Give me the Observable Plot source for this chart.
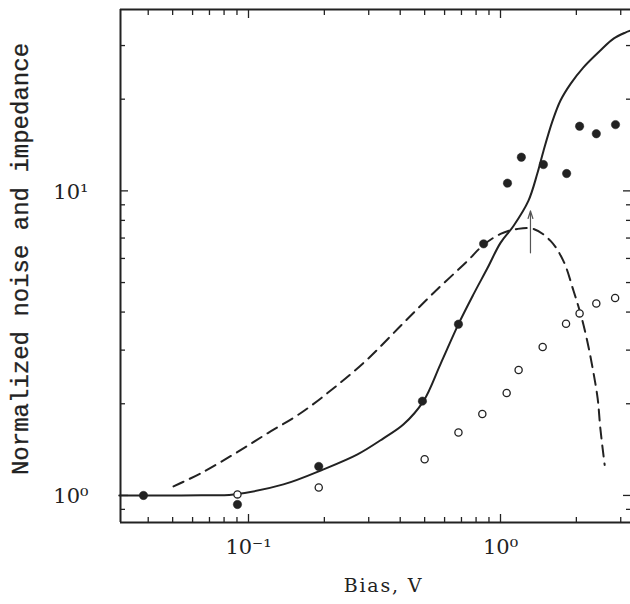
<!DOCTYPE html>
<html><head><meta charset="utf-8">
<script src="https://cdn.jsdelivr.net/npm/d3@7"></script>
<script src="https://cdn.jsdelivr.net/npm/@observablehq/plot@0.6"></script>
<style>
html,body{margin:0;padding:0;background:#fff}
.biaslabel text{letter-spacing:1.8px}
</style>
</head><body><div id="chart"></div>
<script>
// Solid curve (impedance)
const solidBias  = [0.0307, 0.0408, 0.065, 0.0872, 0.1376, 0.1984, 0.2708, 0.3433, 0.4125, 0.4946, 0.578, 0.681, 0.782, 0.888, 1.0, 1.126, 1.29, 1.40, 1.48, 1.61, 1.73, 1.90, 2.13, 2.49, 2.81, 3.13, 3.28];
const solidValue = [1.0, 1.0, 1.001, 1.008, 1.087, 1.218, 1.364, 1.54, 1.712, 2.04, 2.70, 3.65, 4.58, 5.58, 6.75, 7.67, 9.27, 11.4, 13.5, 17.0, 19.8, 22.5, 25.4, 28.9, 31.6, 33.1, 33.6];
// Dashed curve
const dashBias  = [0.0504, 0.0645, 0.0872, 0.119, 0.1608, 0.2175, 0.2966, 0.401, 0.542, 0.740, 0.857, 1.0, 1.167, 1.352, 1.58, 1.778, 1.95, 2.08, 2.21, 2.32, 2.43, 2.49, 2.59];
const dashValue = [1.071, 1.181, 1.364, 1.60, 1.861, 2.249, 2.80, 3.60, 4.62, 5.89, 6.65, 7.22, 7.5, 7.5, 6.85, 5.88, 4.69, 3.94, 3.21, 2.62, 2.08, 1.66, 1.26];
// Filled dots
const filledBias  = [0.0383, 0.0904, 0.190, 0.490, 0.681, 0.857, 1.066, 1.21, 1.48, 1.83, 2.06, 2.40, 2.86];
const filledValue = [1.0, 0.934, 1.245, 2.04, 3.65, 6.7, 10.6, 12.9, 12.2, 11.4, 16.3, 15.4, 16.5];
// Open circles
const openBias  = [0.0904, 0.190, 0.500, 0.681, 0.847, 1.058, 1.18, 1.47, 1.82, 2.06, 2.40, 2.85];
const openValue = [1.008, 1.062, 1.314, 1.61, 1.85, 2.17, 2.58, 3.07, 3.66, 3.96, 4.27, 4.45];
// Arrow marker
const arrowBias = [1.315];
const arrowFrom = [6.26];
const arrowTo   = [8.6];
// Axes
const xDomain = [0.03105, 3.28];
const yDomain = [0.815, 39.4];
const xMajor = [0.1, 1];
const xMinor = [0.04, 0.05, 0.06, 0.07, 0.08, 0.09, 0.2, 0.3, 0.4, 0.5, 0.6, 0.7, 0.8, 0.9, 2, 3];
const yMajor = [1, 10];
const yMinor = [0.9, 2, 3, 4, 5, 6, 7, 8, 9, 20, 30];
const xTickLabels = ["10\u207B\u00B9", "10\u2070"];
const yTickLabels = ["10\u2070", "10\u00B9"];
const xTitle = "Bias, V";
const yTitle = "Normalized noise and impedance";

const solid = solidBias.map((x, i) => ({x, y: solidValue[i]}));
const dash = dashBias.map((x, i) => ({x, y: dashValue[i]}));
const filled = filledBias.map((x, i) => ({x, y: filledValue[i]}));
const open = openBias.map((x, i) => ({x, y: openValue[i]}));
const arrows = arrowBias.map((x, i) => ({x, y1: arrowFrom[i], y2: arrowTo[i]}));

const ink = "#222";
const serif = "'DejaVu Serif', serif";

const chart = Plot.plot({
  width: 630, height: 604,
  marginLeft: 120, marginRight: 0, marginTop: 9, marginBottom: 82,
  x: {type: "log", domain: xDomain},
  y: {type: "log", domain: yDomain},
  style: {background: "#fff", color: ink, fontFamily: serif, overflow: "visible"},
  marks: [
    // frame (left, top, bottom)
    Plot.ruleX([xDomain[0]], {stroke: ink, strokeWidth: 2}),
    Plot.ruleY(yDomain, {stroke: ink, strokeWidth: 2}),
    // inward ticks
    Plot.axisX(xMajor, {anchor: "bottom", tickSize: -8, fill: "none", strokeWidth: 1.3}),
    Plot.axisX(xMinor, {anchor: "bottom", tickSize: -5, fill: "none", strokeWidth: 1.3}),
    Plot.axisX(xMajor, {anchor: "top", tickSize: -8, fill: "none", strokeWidth: 1.3}),
    Plot.axisX(xMinor, {anchor: "top", tickSize: -5, fill: "none", strokeWidth: 1.3}),
    Plot.axisY(yMajor, {anchor: "left", tickSize: -8, fill: "none", strokeWidth: 1.3}),
    Plot.axisY(yMinor, {anchor: "left", tickSize: -5, fill: "none", strokeWidth: 1.3}),
    Plot.axisY(yMajor, {anchor: "right", tickSize: -8, fill: "none", strokeWidth: 1.3}),
    Plot.axisY(yMinor, {anchor: "right", tickSize: -5, fill: "none", strokeWidth: 1.3}),
    // tick labels
    Plot.text(xMajor, {x: d => d, text: (d, i) => xTickLabels[i], frameAnchor: "bottom", dy: 31, fontSize: 21, fill: ink}),
    Plot.text(yMajor, {y: d => d, text: (d, i) => yTickLabels[i], frameAnchor: "left", dx: -32, dy: 1, textAnchor: "end", fontSize: 21, fill: ink}),
    // axis titles
    Plot.text([yTitle], {text: d => d, frameAnchor: "left", textAnchor: "middle", dx: -100, dy: -7, rotate: -90, fontFamily: "'Liberation Mono', monospace", fontSize: 24, fill: ink, stroke: ink, strokeWidth: 0.3}),
    Plot.text([xTitle], {text: d => d, frameAnchor: "bottom", textAnchor: "middle", dx: 8, dy: 69, fontSize: 19, fill: ink, className: "biaslabel"}),
    // data
    Plot.line(dash, {x: "x", y: "y", stroke: ink, strokeWidth: 2, strokeDasharray: "11,7", curve: "catmull-rom"}),
    Plot.line(solid, {x: "x", y: "y", stroke: ink, strokeWidth: 2, curve: "catmull-rom"}),
    Plot.arrow(arrows, {x1: "x", x2: "x", y1: "y1", y2: "y2", stroke: "#555", strokeWidth: 1.2, headLength: 10, headAngle: 35}),
    Plot.dot(open, {x: "x", y: "y", r: 3.6, fill: "#fff", stroke: ink, strokeWidth: 1.3}),
    Plot.dot(filled, {x: "x", y: "y", r: 4.2, fill: ink, stroke: ink, strokeWidth: 0.5})
  ]
});
document.getElementById("chart").appendChild(chart);
</script>
</body></html>
